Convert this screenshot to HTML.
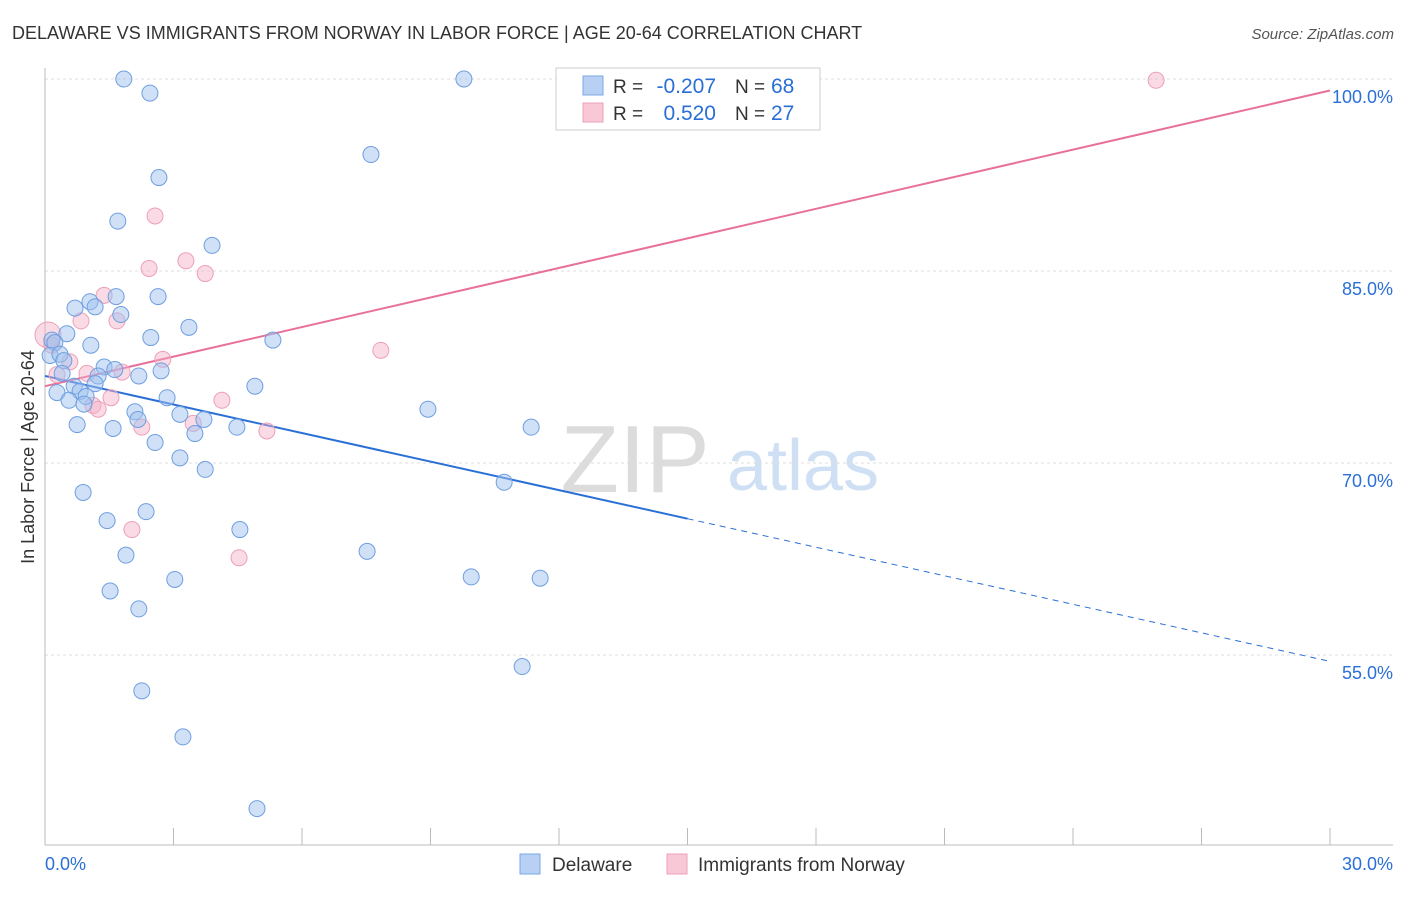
<!DOCTYPE html>
<html><head><meta charset="utf-8"><style>
body{margin:0;background:#fff;font-family:"Liberation Sans",sans-serif}
svg text{font-family:"Liberation Sans",sans-serif}
</style></head><body>
<svg id="c" width="1406" height="892" viewBox="0 0 1406 892" xmlns="http://www.w3.org/2000/svg">
<text x="12" y="39" font-size="18" fill="#333">DELAWARE VS IMMIGRANTS FROM NORWAY IN LABOR FORCE | AGE 20-64 CORRELATION CHART</text>
<text x="1394" y="39" font-size="15" fill="#555" text-anchor="end" font-style="italic">Source: ZipAtlas.com</text>
<text x="0" y="0" transform="translate(34,457) rotate(-90)" font-size="18" fill="#333" text-anchor="middle">In Labor Force | Age 20-64</text>
<g><text x="635" y="492" font-size="96" fill="#dcdcdc" text-anchor="middle" font-family="Liberation Serif,serif">ZIP</text><text x="803" y="490" font-size="72" fill="#d0e0f4" text-anchor="middle">atlas</text></g>
<g id="grid"></g><g id="axes"></g><g id="lines"></g><g id="pts"></g>
<g>
<rect x="556" y="68" width="264" height="62" fill="#fff" stroke="#ccc"/>
<rect x="583" y="76" width="20" height="19" fill="#b8d0f4" stroke="#7aa8e6"/>
<rect x="583" y="103" width="20" height="19" fill="#f8c8d6" stroke="#eda0b8"/>
<text x="613" y="93" font-size="19" fill="#333">R =</text>
<text x="716" y="93" font-size="21" fill="#2a6fd6" text-anchor="end">-0.207</text>
<text x="735" y="93" font-size="19" fill="#333">N =</text>
<text x="771" y="93" font-size="21" fill="#2a6fd6">68</text>
<text x="613" y="120" font-size="19" fill="#333">R =</text>
<text x="716" y="120" font-size="21" fill="#2a6fd6" text-anchor="end">0.520</text>
<text x="735" y="120" font-size="19" fill="#333">N =</text>
<text x="771" y="120" font-size="21" fill="#2a6fd6">27</text>
</g>
<g>
<rect x="520" y="854" width="20" height="20" fill="#b8d0f4" stroke="#7aa8e6"/>
<text x="552" y="871" font-size="19" fill="#333">Delaware</text>
<rect x="667" y="854" width="20" height="20" fill="#f8c8d6" stroke="#eda0b8"/>
<text x="698" y="871" font-size="19" fill="#333">Immigrants from Norway</text>
</g>
</svg>
<script>
const blueX=[1.84,2.45,9.78,7.61,2.66,1.70,3.90,1.05,0.70,1.17,1.66,2.64,1.77,3.36,0.51,2.47,5.32,0.16,0.23,1.07,0.12,0.35,0.44,1.38,1.63,2.71,0.40,1.24,2.19,1.17,0.68,4.90,0.82,0.28,0.96,0.56,2.85,0.91,2.10,8.94,3.15,2.17,3.71,0.75,4.48,1.59,11.35,3.50,2.57,3.15,3.74,10.72,0.89,2.36,1.45,4.55,1.89,7.52,3.03,9.95,11.56,1.52,2.19,11.14,2.26,3.22,4.95];
const blueY=[100,98.9,100,94.1,92.3,88.9,87.0,82.6,82.1,82.2,83.0,83.0,81.6,80.6,80.1,79.8,79.6,79.6,79.4,79.2,78.4,78.5,78.0,77.5,77.3,77.2,77.0,76.8,76.8,76.2,76.0,76.0,75.6,75.5,75.2,74.9,75.1,74.6,74.0,74.2,73.8,73.4,73.4,73.0,72.8,72.7,72.8,72.3,71.6,70.4,69.5,68.5,67.7,66.2,65.5,64.8,62.8,63.1,60.9,61.1,61.0,60.0,58.6,54.1,52.2,48.6,43.0];
const pinkX=[25.94,2.57,3.29,2.43,3.74,1.38,1.68,0.84,0.07,7.84,2.75,0.58,1.80,0.28,0.98,1.54,4.13,1.12,1.24,3.46,2.26,5.18,2.03,4.53,0.16];
const pinkY=[99.9,89.3,85.8,85.2,84.8,83.1,81.1,81.1,80.0,78.8,78.1,77.9,77.1,76.9,77.0,75.1,74.9,74.5,74.2,73.1,72.8,72.5,64.8,62.6,79.2];
const blueFit=[76.8,54.5];
const pinkFit=[76.0,99.1];
const yTicks=[100,85,70,55];
const yTickLabels=["100.0%","85.0%","70.0%","55.0%"];
const xTickLabels=["0.0%","30.0%"];
const NS="http://www.w3.org/2000/svg";
const X=v=>45+v/30*1285, Y=v=>79+(100-v)/15*192;
function mk(t,a,p){const e=document.createElementNS(NS,t);for(const k in a)e.setAttribute(k,a[k]);document.getElementById(p).appendChild(e);return e;}
yTicks.forEach((t,i)=>{
 const l=mk('line',{x1:45,x2:1393,y1:Y(t),y2:Y(t),stroke:'#ddd','stroke-dasharray':'3,3'},'grid');
 
 
 const tx=mk('text',{x:1393,y:Y(t)+24,'font-size':18,fill:'#2a6fd6','text-anchor':'end'},'axes');tx.textContent=yTickLabels[i];
 
 
});
let a=mk('line',{x1:45,x2:45,y1:68,y2:845,stroke:'#bbb'},'axes');


a=mk('line',{x1:45,x2:1393,y1:845,y2:845,stroke:'#bbb'},'axes');


for(let i=0;i<=10;i++){const tk=mk('line',{x1:X(i*3),x2:X(i*3),y1:828,y2:845,stroke:'#bbb'},'axes');
 
 }
[[0,45,'start'],[30,1393,'end']].forEach((d,i)=>{const t=mk('text',{x:d[1],y:870,'font-size':18,fill:'#2a6fd6','text-anchor':d[2]},'axes');t.textContent=xTickLabels[i];
 
 });
const bm=blueFit[0]+(blueFit[1]-blueFit[0])/2;
let ln=mk('line',{x1:X(0),y1:Y(blueFit[0]),x2:X(15),y2:Y(bm),stroke:'#2a6fd6','stroke-width':2},'lines');


ln=mk('line',{x1:X(15),y1:Y(bm),x2:X(30),y2:Y(blueFit[1]),stroke:'#2a6fd6','stroke-width':1,'stroke-dasharray':'6,5'},'lines');


ln=mk('line',{x1:X(0),y1:Y(pinkFit[0]),x2:X(30),y2:Y(pinkFit[1]),stroke:'#e8709a','stroke-width':2},'lines');


pinkX.forEach((v,i)=>{const c=mk('circle',{cx:X(v),cy:Y(pinkY[i]),r:i==8?13:8,fill:'rgba(244,176,198,0.45)',stroke:'#eca0b8','stroke-width':1},'pts');
 
 });
blueX.forEach((v,i)=>{const c=mk('circle',{cx:X(v),cy:Y(blueY[i]),r:8,fill:'rgba(160,194,240,0.5)',stroke:'#6f9fe0','stroke-width':1},'pts');
 
 });
</script>
</body></html>
